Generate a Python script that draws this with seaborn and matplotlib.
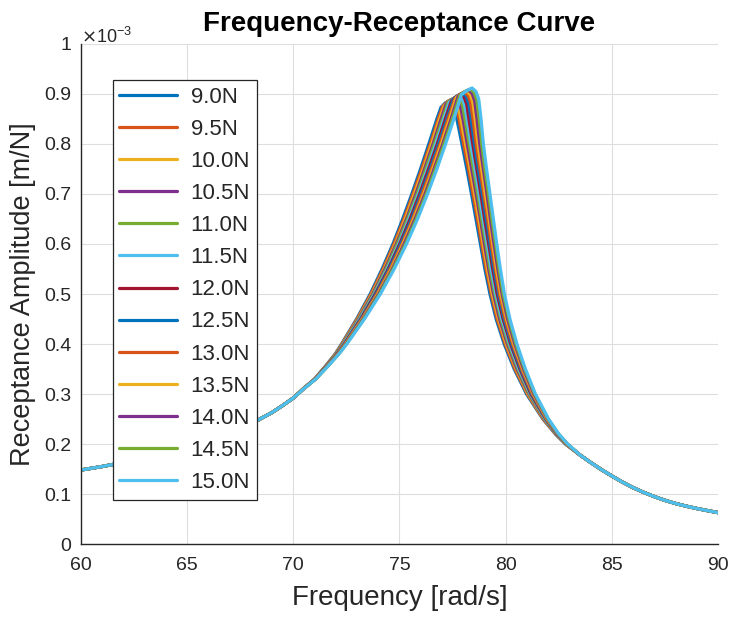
import numpy as np
import pandas as pd
import matplotlib
matplotlib.use("Agg")
import matplotlib.pyplot as plt
from matplotlib.ticker import FuncFormatter, MultipleLocator
from matplotlib.lines import Line2D
import seaborn as sns

# ---------------- data (receptance in units of 1e-3 m/N) ----------------
forces = ["9.0N", "9.5N", "10.0N", "10.5N", "11.0N", "11.5N", "12.0N",
          "12.5N", "13.0N", "13.5N", "14.0N", "14.5N", "15.0N"]

colors = ["#0072BD", "#D95319", "#EDB120", "#7E2F8E", "#77AC30", "#4DBEEE",
          "#A2142F", "#0072BD", "#D95319", "#EDB120", "#7E2F8E", "#77AC30",
          "#4DBEEE"]

# shared low-frequency tail (all curves coincide)
tail_left_freq = [60.0, 61.0, 62.0, 63.0, 64.0, 65.0, 66.0, 67.0, 68.0, 69.0, 69.5, 70.0]
tail_left_amp = [0.148, 0.155, 0.163, 0.172, 0.182, 0.193, 0.206, 0.222, 0.240, 0.263, 0.277, 0.292]

# rising branch: for each amplitude level, the frequency of each curve (9.0N ... 15.0N)
rise_amp = [0.31, 0.33, 0.355, 0.38, 0.40, 0.45, 0.50, 0.55, 0.60, 0.65, 0.70, 0.75, 0.80, 0.85]
rise_freq = [
    [70.45, 70.45, 70.46, 70.46, 70.46, 70.46, 70.47, 70.47, 70.47, 70.47, 70.48, 70.48, 70.48],
    [71.00, 71.01, 71.01, 71.02, 71.02, 71.03, 71.03, 71.04, 71.04, 71.05, 71.05, 71.06, 71.06],
    [71.50, 71.51, 71.52, 71.53, 71.54, 71.55, 71.56, 71.57, 71.58, 71.59, 71.60, 71.61, 71.62],
    [71.97, 71.99, 72.00, 72.02, 72.03, 72.05, 72.06, 72.08, 72.09, 72.11, 72.12, 72.14, 72.15],
    [72.27, 72.29, 72.31, 72.33, 72.35, 72.37, 72.40, 72.42, 72.44, 72.46, 72.48, 72.50, 72.52],
    [72.98, 73.01, 73.04, 73.07, 73.10, 73.13, 73.17, 73.20, 73.23, 73.26, 73.29, 73.32, 73.35],
    [73.62, 73.66, 73.70, 73.74, 73.78, 73.82, 73.86, 73.90, 73.94, 73.98, 74.02, 74.06, 74.10],
    [74.18, 74.23, 74.28, 74.32, 74.37, 74.42, 74.47, 74.51, 74.56, 74.61, 74.66, 74.70, 74.75],
    [74.69, 74.74, 74.80, 74.85, 74.90, 74.96, 75.01, 75.06, 75.12, 75.17, 75.22, 75.28, 75.33],
    [75.15, 75.21, 75.27, 75.33, 75.38, 75.44, 75.50, 75.56, 75.62, 75.67, 75.73, 75.79, 75.85],
    [75.58, 75.64, 75.70, 75.77, 75.83, 75.89, 75.95, 76.01, 76.07, 76.14, 76.20, 76.26, 76.32],
    [75.99, 76.05, 76.12, 76.18, 76.24, 76.31, 76.37, 76.44, 76.50, 76.57, 76.63, 76.69, 76.76],
    [76.38, 76.45, 76.51, 76.58, 76.64, 76.71, 76.78, 76.84, 76.91, 76.97, 77.04, 77.10, 77.17],
    [76.76, 76.83, 76.89, 76.96, 77.03, 77.09, 77.16, 77.23, 77.29, 77.36, 77.43, 77.49, 77.56],
]

# top of each curve: five points from the shoulder over the peak to the drop
top_freq = [
    [76.95, 77.03, 77.11, 77.19, 77.27, 77.35, 77.44, 77.52, 77.60, 77.68, 77.76, 77.84, 77.92],
    [77.15, 77.24, 77.32, 77.41, 77.49, 77.58, 77.67, 77.75, 77.84, 77.92, 78.01, 78.09, 78.18],
    [77.35, 77.44, 77.53, 77.62, 77.71, 77.80, 77.89, 77.97, 78.06, 78.15, 78.24, 78.33, 78.42],
    [77.50, 77.59, 77.68, 77.78, 77.87, 77.96, 78.05, 78.14, 78.23, 78.33, 78.42, 78.51, 78.60],
    [77.60, 77.69, 77.79, 77.88, 77.98, 78.07, 78.17, 78.26, 78.35, 78.45, 78.54, 78.64, 78.73],
]
top_amp = [
    [0.873, 0.875, 0.877, 0.880, 0.882, 0.884, 0.886, 0.888, 0.890, 0.893, 0.895, 0.897, 0.899],
    [0.882, 0.884, 0.886, 0.888, 0.890, 0.892, 0.895, 0.897, 0.899, 0.901, 0.903, 0.905, 0.907],
    [0.887, 0.889, 0.891, 0.893, 0.895, 0.897, 0.900, 0.902, 0.904, 0.906, 0.908, 0.910, 0.912],
    [0.881, 0.883, 0.885, 0.887, 0.889, 0.891, 0.893, 0.895, 0.897, 0.899, 0.901, 0.903, 0.905],
    [0.868, 0.870, 0.872, 0.874, 0.875, 0.877, 0.879, 0.881, 0.883, 0.885, 0.886, 0.888, 0.890],
]

# falling branch: for each amplitude level, the frequency of each curve
fall_amp = [0.85, 0.80, 0.75, 0.70, 0.65, 0.60, 0.55, 0.50, 0.45, 0.40, 0.35, 0.30,
            0.25, 0.22, 0.20]
fall_freq = [
    [77.70, 77.80, 77.89, 77.99, 78.08, 78.18, 78.27, 78.37, 78.46, 78.56, 78.65, 78.75, 78.84],
    [77.94, 78.02, 78.11, 78.19, 78.28, 78.36, 78.45, 78.53, 78.61, 78.70, 78.78, 78.87, 78.95],
    [78.17, 78.25, 78.33, 78.40, 78.48, 78.56, 78.64, 78.71, 78.79, 78.87, 78.95, 79.02, 79.10],
    [78.39, 78.46, 78.54, 78.61, 78.68, 78.75, 78.83, 78.90, 78.97, 79.04, 79.12, 79.19, 79.26],
    [78.60, 78.67, 78.74, 78.81, 78.87, 78.94, 79.01, 79.08, 79.15, 79.22, 79.28, 79.35, 79.42],
    [78.81, 78.87, 78.94, 79.00, 79.07, 79.13, 79.20, 79.26, 79.32, 79.39, 79.45, 79.52, 79.58],
    [79.02, 79.08, 79.14, 79.20, 79.26, 79.32, 79.39, 79.45, 79.51, 79.57, 79.63, 79.69, 79.75],
    [79.26, 79.32, 79.37, 79.43, 79.49, 79.54, 79.60, 79.66, 79.71, 79.77, 79.83, 79.88, 79.94],
    [79.55, 79.60, 79.66, 79.71, 79.77, 79.82, 79.88, 79.93, 79.98, 80.04, 80.09, 80.15, 80.20],
    [79.93, 79.98, 80.03, 80.08, 80.13, 80.18, 80.23, 80.28, 80.33, 80.38, 80.43, 80.48, 80.53],
    [80.40, 80.44, 80.49, 80.53, 80.58, 80.62, 80.67, 80.71, 80.75, 80.80, 80.84, 80.89, 80.93],
    [80.98, 81.02, 81.05, 81.09, 81.12, 81.16, 81.19, 81.23, 81.26, 81.30, 81.33, 81.37, 81.40],
    [81.75, 81.77, 81.80, 81.82, 81.84, 81.86, 81.89, 81.91, 81.93, 81.95, 81.98, 82.00, 82.02],
    [82.34, 82.35, 82.37, 82.38, 82.39, 82.41, 82.42, 82.43, 82.45, 82.46, 82.47, 82.49, 82.50],
    [82.81, 82.82, 82.83, 82.84, 82.85, 82.86, 82.87, 82.87, 82.88, 82.89, 82.90, 82.91, 82.92],
]

# shared high-frequency tail
tail_right_freq = [83.5, 84.0, 84.5, 85.0, 85.5, 86.0, 86.5, 87.0,
                   87.5, 88.0, 88.5, 89.0, 89.5, 90.0]
tail_right_amp = [0.178, 0.163, 0.149, 0.136, 0.1237, 0.1127, 0.1032, 0.0948,
                  0.0873, 0.0810, 0.0757, 0.0710, 0.0668, 0.0628]

x_ticks = [60, 65, 70, 75, 80, 85, 90]

# ---------------- build long-form table ----------------
rows = []
for i, lab in enumerate(forces):
    fr = (tail_left_freq + [lvl[i] for lvl in rise_freq] + [p[i] for p in top_freq]
          + [lvl[i] for lvl in fall_freq] + tail_right_freq)
    am = (tail_left_amp + rise_amp + [p[i] for p in top_amp]
          + fall_amp + tail_right_amp)
    for j, (f, a) in enumerate(zip(fr, am)):
        rows.append({"force": lab, "order": j, "freq": f, "amp": a})
df = pd.DataFrame(rows)

# ---------------- plot ----------------
sns.set_style("white")
plt.rcParams["font.family"] = ["Liberation Sans", "DejaVu Sans"]

fig = plt.figure(figsize=(7.29, 6.17), dpi=100)
ax = fig.add_axes([0.111, 0.1183, 0.874, 0.8104])

sns.lineplot(data=df, x="freq", y="amp", hue="force", hue_order=forces,
             palette=colors, sort=False, estimator=None, units="force",
             linewidth=2.3, ax=ax, legend=False)

ax.set_xlim(60, 90)
ax.set_ylim(0, 1)
ax.set_xticks(x_ticks)
ax.yaxis.set_major_locator(MultipleLocator(0.1))
ax.yaxis.set_major_formatter(FuncFormatter(lambda v, p: f"{v:g}"))

tc = "#262626"
ax.grid(True, color="#dedede", linewidth=0.8)
for s in ["top", "right"]:
    ax.spines[s].set_visible(False)
for s in ["left", "bottom"]:
    ax.spines[s].set_color(tc)
    ax.spines[s].set_linewidth(1.0)
ax.tick_params(direction="in", length=5, width=1.0, colors=tc, labelsize=14)
ax.tick_params(axis="x", pad=9)
ax.tick_params(axis="y", pad=7)

ax.set_xlabel("Frequency [rad/s]", fontsize=20, color=tc, labelpad=8)
ax.set_ylabel("Receptance Amplitude [m/N]", fontsize=19.5, color=tc, labelpad=6)
ax.set_title("Frequency-Receptance Curve", fontsize=20, fontweight="bold",
             color="black", pad=9)
ax.text(0.0, 0.994, r"$\times$10$^{\mathregular{-3}}$", transform=ax.transAxes,
        fontsize=13, color=tc, ha="left", va="bottom")

handles = [Line2D([], [], color=c, linewidth=2.3) for c in colors]
leg = ax.legend(handles, forces, loc="upper left", bbox_to_anchor=(0.050, 0.928),
                borderaxespad=0, fontsize=16, handlelength=2.6, labelspacing=0.50,
                handletextpad=0.6, borderpad=0.3, fancybox=False, framealpha=1,
                edgecolor="#262626")
leg.get_frame().set_linewidth(0.9)

fig.savefig("out.png", dpi=100)
